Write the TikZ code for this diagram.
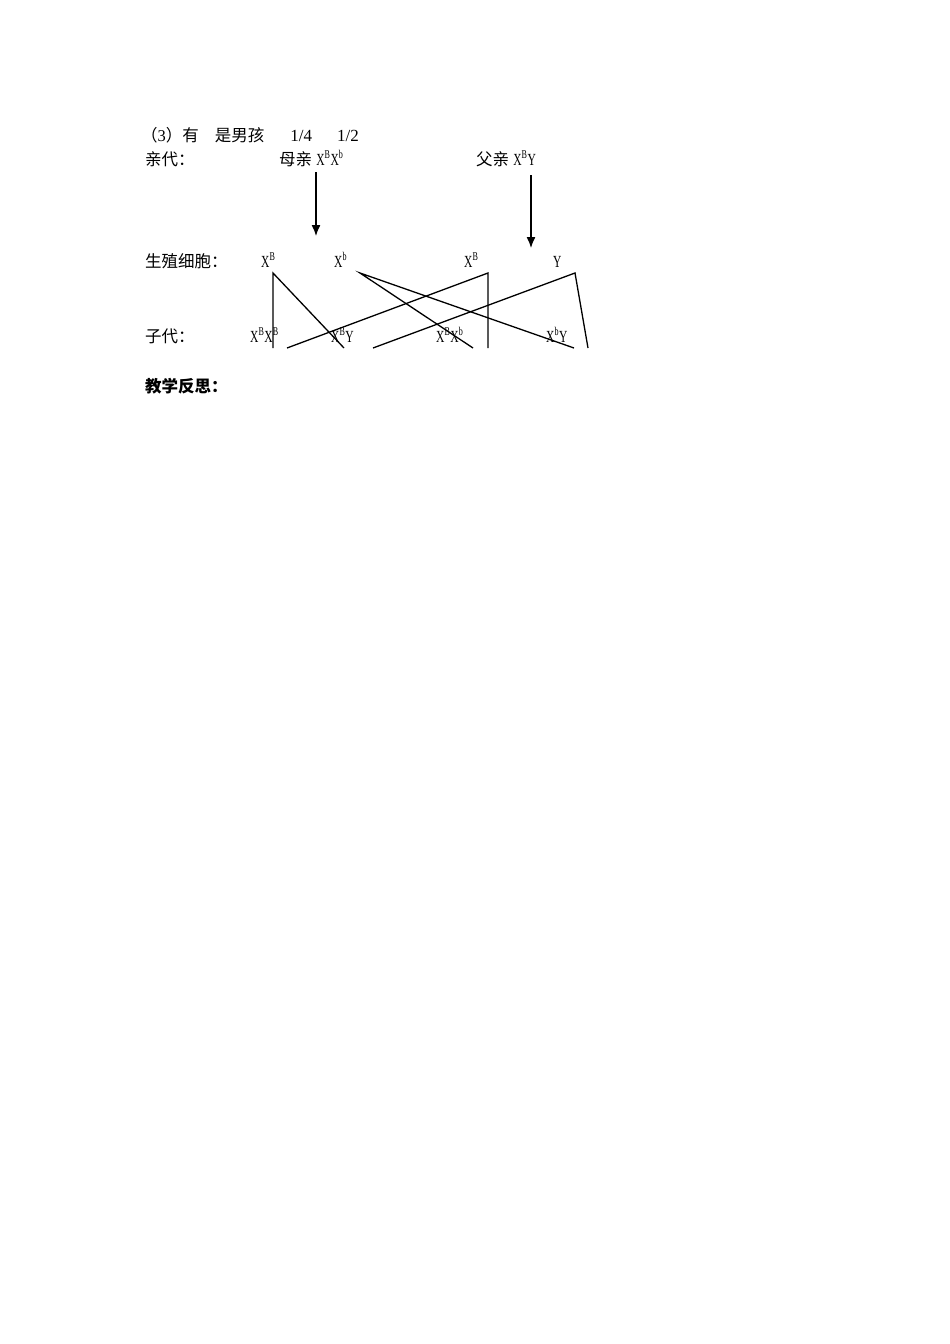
\documentclass[tikz,border=0pt]{standalone}
\usepackage{fontspec}
\setmainfont{Liberation Serif}
\newfontfamily\cjk{Noto Sans CJK SC}
\newfontfamily\gene[FakeStretch=0.68]{Liberation Serif}
\usetikzlibrary{arrows.meta, positioning}

\tikzset{
	txt/.style={anchor=base west, inner sep=0pt, font=\fontsize{16.5}{19}\selectfont},
	allele/.style={txt, font=\gene\fontsize{17}{19}\selectfont},
	cross/.style={line width=1.3pt},
	down/.style={line width=1.3pt, -{Latex[length=11pt,width=9pt]}}
}

\begin{document}
\begin{tikzpicture}[x=1pt,y=-1pt]
	\useasboundingbox (0,0) rectangle (950,1344);
	
	\node(answer) [txt] at (141,141) {{\cjk （}3{\cjk ）有}\hspace{16pt}{\cjk 是男孩}\hspace{26pt}{\fontsize{17}{19}\selectfont 1/4\hspace{25pt}1/2}};
	
	%--------------------------------------------------------------------
	\node(parents) [txt] at (145,165) {\cjk 亲代：};
	\node(mother) [txt] at (279,165) {{\cjk 母亲} {\gene\fontsize{17}{19}\selectfont X\textsuperscript{B}X\textsuperscript{b}}};
	\node(father) [txt] at (476,165) {{\cjk 父亲} {\gene\fontsize{17}{19}\selectfont X\textsuperscript{B}Y}};
	
	\coordinate (mtop) at (316,172);
	\coordinate (mend) at (316,236);
	\coordinate (ftop) at (531,175);
	\coordinate (fend) at (531,248);
	\draw[down] (mtop) -- (mend);
	\draw[down] (ftop) -- (fend);
	
	%--------------------------------------------------------------------
	\node(gametes) [txt] at (145,267) {\cjk 生殖细胞：};
	\node(gmB) [allele] at (261,267) {X\textsuperscript{B}};
	\node(gmb) [allele] at (334,267) {X\textsuperscript{b}};
	\node(gfB) [allele] at (464,267) {X\textsuperscript{B}};
	\node(gfY) [allele] at (553,267) {Y};
	
	%--------------------------------------------------------------------
	\node(offspring) [txt] at (145,342) {\cjk 子代：};
	\node(kBB) [allele] at (250,342) {X\textsuperscript{B}X\textsuperscript{B}};
	\node(kBY) [allele] at (331,342) {X\textsuperscript{B}Y};
	\node(kBb) [allele] at (436,342) {X\textsuperscript{B}X\textsuperscript{b}};
	\node(kbY) [allele] at (546,342) {X\textsuperscript{b}Y};
	
	% crossing lines
	\coordinate (mB) at (273,273);
	\coordinate (mb) at (360,273);
	\coordinate (fB) at (488,273);
	\coordinate (fY) at (575,273);
	\coordinate (eBB1) at (273,348);
	\coordinate (eBB2) at (287,348);
	\coordinate (eBY1) at (344,348);
	\coordinate (eBY2) at (373,348);
	\coordinate (eBb1) at (473,348);
	\coordinate (eBb2) at (488,348);
	\coordinate (ebY1) at (574,348);
	\coordinate (ebY2) at (588,348);
	\draw[cross] (eBB1) -- (mB) -- (eBY1);
	\draw[cross] (eBb1) -- (mb) -- (ebY1);
	\draw[cross] (eBB2) -- (fB) -- (eBb2);
	\draw[cross] (eBY2) -- (fY) -- (ebY2);
	
	%--------------------------------------------------------------------
	\node(reflect) [txt] at (145,392) {\cjk\bfseries 教学反思：};
	
\end{tikzpicture}
\end{document}
